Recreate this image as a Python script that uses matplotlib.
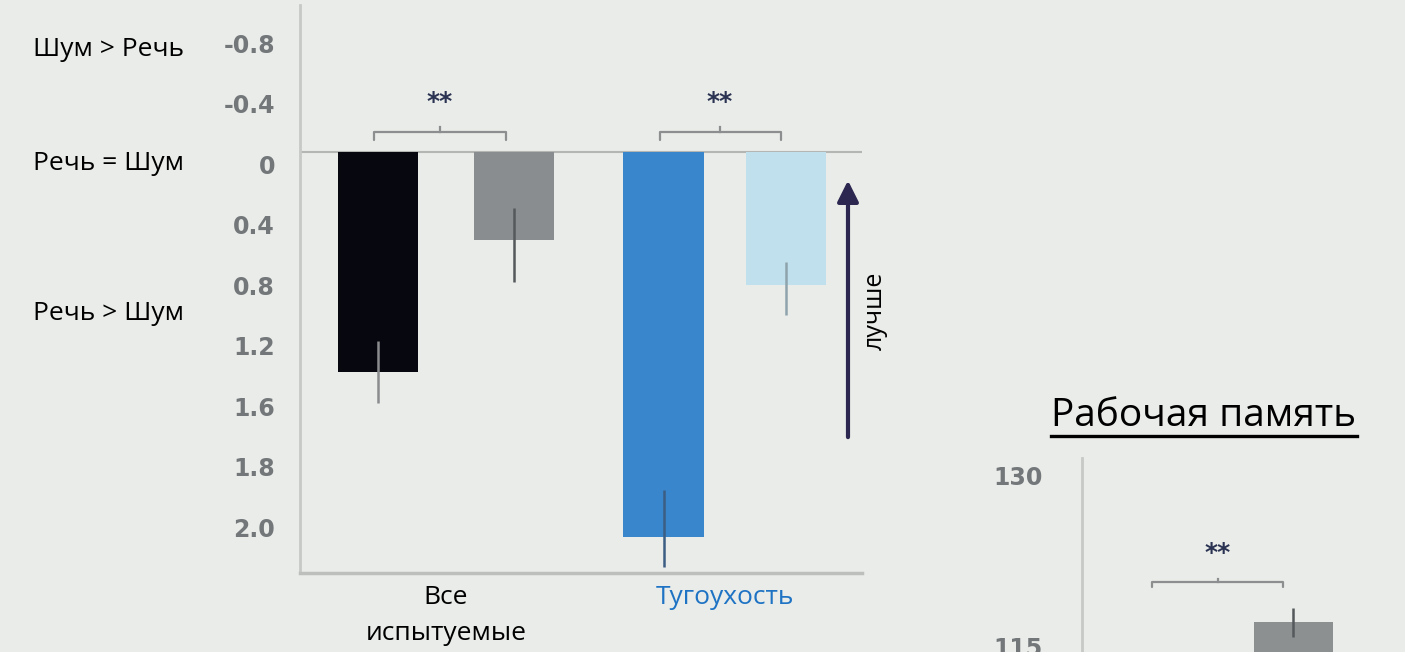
import numpy as np
import matplotlib
matplotlib.use("Agg")
import matplotlib.pyplot as plt
from matplotlib.lines import Line2D

plt.rcParams['font.family'] = ['Open Sans', 'DejaVu Sans']

# main chart data (axis units, positive = downward)
bar_pos = [0.0, 1.0, 2.1, 3.0]
bar_vals = [1.455, 0.582, 2.546, 0.879]
err_up = [0.205, 0.21, 0.31, 0.15]
err_down = [0.205, 0.28, 0.20, 0.20]
bar_colors = ['#07070f', '#8a8d8f', '#3a86cc', '#bfe0ec']
err_colors = ['#8a8c8e', '#55595c', '#3c5d84', '#8fa3ad']
tick_labels = ['-0.8', '-0.4', '0', '0.4', '0.8', '1.2', '1.6', '1.8', '2.0']
group_labels = ['Все\nиспытуемые', 'Тугоухость']
group_colors = ['black', '#1f73c4']
side_labels = ['Шум > Речь', 'Речь = Шум', 'Речь > Шум']

# working memory data
wm_pos = [1.0]
wm_vals = [117.2]
wm_err_up = [1.22]
wm_err_down = [1.3]
wm_ticks = [115, 130]

bg = '#e9ece8'
W, H = 1405, 652


def box(l, t, r, b):
    return [l / W, 1 - b / H, (r - l) / W, (b - t) / H]


def bracket(ax, x0, x1, y, drop, rise, stars_y):
    ax.plot([x0, x0, x1, x1], [y + drop, y, y, y + drop], color='#8c8e90', lw=1.6,
            solid_capstyle='round')
    mid = (x0 + x1) / 2
    ax.plot([mid, mid], [y, y - rise], color='#8c8e90', lw=1.6)
    ax.text(mid, stars_y, '**', ha='center', va='center', fontsize=18,
            fontweight='bold', color='#2b3353', family='DejaVu Sans')


fig = plt.figure(figsize=(14.05, 6.52), dpi=100)
fig.patch.set_facecolor(bg)

ax = fig.add_axes(box(300, 5, 862, 573))
ax.set_facecolor(bg)
ax.set_xlim(-0.574, 3.559)
ax.set_ylim(2.784, -0.972)

for sp in ['top', 'right']:
    ax.spines[sp].set_visible(False)
ax.spines['left'].set_color('#c6c9c6')
ax.spines['left'].set_linewidth(2)
ax.spines['bottom'].set_color('#bcbfbc')
ax.spines['bottom'].set_linewidth(2.5)

ax.axhline(0, color='#b3b6b3', lw=1.5, zorder=1)

ax.bar(bar_pos, bar_vals, width=0.59, color=bar_colors, zorder=2)
for x, v, lo, hi, c in zip(bar_pos, bar_vals, err_up, err_down, err_colors):
    ax.errorbar(x, v, yerr=[[lo], [hi]], fmt='none', ecolor=c, elinewidth=1.8,
                capsize=0, zorder=3)

yt = np.arange(len(tick_labels)) * 0.4 - 0.72
ax.set_yticks(yt, tick_labels)
ax.tick_params(axis='y', length=0, pad=18, labelsize=17, labelcolor='#74777a')
for t in ax.get_yticklabels():
    t.set_family('DejaVu Sans')
    t.set_fontweight('bold')

centers = [np.mean(bar_pos[0:2]), np.mean(bar_pos[2:4])]
ax.set_xticks(centers, group_labels)
ax.tick_params(axis='x', length=0, pad=9, labelsize=19)
for t, c in zip(ax.get_xticklabels(), group_colors):
    t.set_color(c)
    t.set_linespacing(1.55)

bracket(ax, bar_pos[0] - 0.03, bar_pos[1] - 0.06, -0.132, 0.05, 0.035, -0.33)
bracket(ax, bar_pos[2] - 0.03, bar_pos[3] - 0.04, -0.132, 0.05, 0.035, -0.33)

ax.annotate('', xy=(3.456, 0.17), xytext=(3.456, 1.904),
            arrowprops=dict(arrowstyle='-|>', color='#2c2750', lw=3,
                            mutation_scale=32), annotation_clip=False)
ax.text(3.66, 1.05, 'лучше', rotation=90, ha='center', va='center', fontsize=18)

for lbl, y in zip(side_labels, [50, 163, 313]):
    fig.text(33 / W, 1 - y / H, lbl, ha='left', va='center', fontsize=19)

# working memory panel
ax2 = fig.add_axes(box(1082, 458, 1405, 652))
ax2.set_facecolor(bg)
ax2.set_xlim(-0.59, 1.84)
ax2.set_ylim(114.56, 131.5)
for sp in ['top', 'right', 'bottom']:
    ax2.spines[sp].set_visible(False)
ax2.spines['left'].set_color('#c6c9c6')
ax2.spines['left'].set_linewidth(2)
ax2.set_xticks([])
ax2.set_yticks(wm_ticks, [str(v) for v in wm_ticks])
ax2.tick_params(axis='y', length=0, pad=28, labelsize=17, labelcolor='#74777a')
for t in ax2.get_yticklabels():
    t.set_family('DejaVu Sans')
    t.set_fontweight('bold')
ax2.bar(wm_pos, wm_vals, width=0.59, color='#8c9091', zorder=2)
ax2.errorbar(wm_pos, wm_vals, yerr=[wm_err_down, wm_err_up], fmt='none',
             ecolor='#55595c', elinewidth=1.8, capsize=0, zorder=3)
bracket(ax2, -0.06, 0.925, 120.67, -0.4, -0.3, 123.2)

title = fig.text(1204 / W, 1 - 416 / H, 'Рабочая память', ha='center', va='center',
                 fontsize=28)
fig.canvas.draw()
bb = title.get_window_extent().transformed(fig.transFigure.inverted())
uy = 1 - 436 / H
fig.add_artist(Line2D([bb.x0, bb.x1], [uy, uy], color='black', lw=2.4,
                      transform=fig.transFigure))

fig.savefig('out.png', dpi=100, facecolor=bg)
